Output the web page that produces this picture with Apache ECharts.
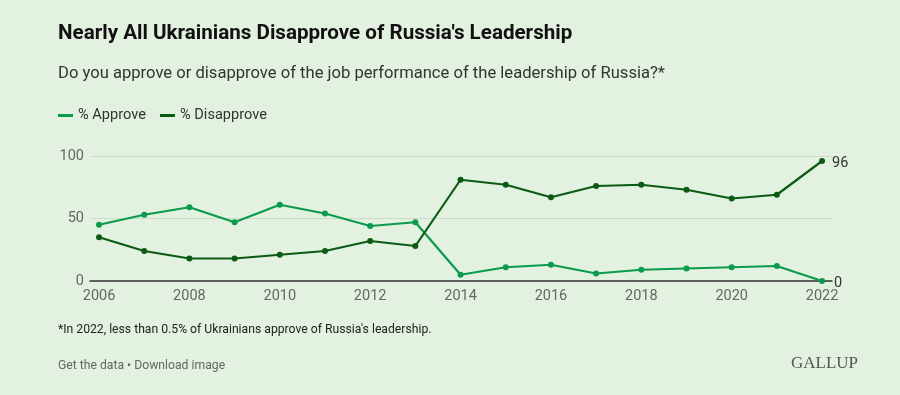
<!DOCTYPE html>
<html><head><meta charset="utf-8">
<script src="https://cdn.jsdelivr.net/npm/echarts@6/dist/echarts.min.js"></script>
<style>html,body{margin:0;padding:0;background:#e3f1e0;}#c{width:900px;height:395px;}</style>
</head><body><div id="c"></div>
<script>
const years = [2006,2007,2008,2009,2010,2011,2012,2013,2014,2015,2016,2017,2018,2019,2020,2021,2022];
const approve = [45,53,59,47,61,54,44,47,5,11,13,6,9,10,11,12,0];
const disapprove = [35,24,18,18,21,24,32,28,81,77,67,76,77,73,66,69,96];
const xTicks = [2006,2008,2010,2012,2014,2016,2018,2020,2022];
const yTicks = [0,50,100];

const chart = echarts.init(document.getElementById('c'), null, {renderer:'canvas'});
const FONT = 'Roboto';
const pair = arr => years.map((y,i)=>[y,arr[i]]);
chart.setOption({
  backgroundColor:'#e3f1e0',
  animation:false,
  textStyle:{fontFamily:FONT},
  title:[
    {text:"Nearly All Ukrainians Disapprove of Russia's Leadership",left:58,top:23,padding:0,
     textStyle:{fontFamily:FONT,fontSize:20.6,fontWeight:'bold',color:'#111'}},
    {text:"Do you approve or disapprove of the job performance of the leadership of Russia?*",left:58,top:65,padding:0,
     textStyle:{fontFamily:FONT,fontSize:16.6,fontWeight:'normal',color:'#333'}},
    {text:"*In 2022, less than 0.5% of Ukrainians approve of Russia's leadership.",left:58,top:324,padding:0,
     textStyle:{fontFamily:FONT,fontSize:12.2,fontWeight:'normal',color:'#222'}},
    {text:"Get the data • Download image",left:58,top:360,padding:0,
     textStyle:{fontFamily:FONT,fontSize:12.2,fontWeight:'normal',color:'#666'}},
    {text:"GALLUP",left:791,top:355,padding:0,
     textStyle:{fontFamily:'Liberation Serif',fontSize:17,fontWeight:'normal',color:'#555'}}
  ],
  legend:{left:58,top:108,padding:0,itemWidth:15,itemHeight:3,itemGap:14,icon:'rect',
    textStyle:{fontFamily:FONT,fontSize:14.6,color:'#333'},
    data:['% Approve','% Disapprove']},
  grid:{left:90,right:68,top:156,bottom:114,containLabel:false},
  xAxis:{type:'value',min:2005.8,max:2022.22,
    axisLine:{show:true,onZero:true,lineStyle:{color:'#333',width:1.5}},
    axisTick:{show:false},
    splitLine:{show:false},
    axisLabel:{customValues:xTicks,color:'#666',fontSize:14.5,fontFamily:FONT,margin:8,formatter:v=>String(v)}},
  yAxis:{type:'value',min:0,max:100,interval:50,
    axisLine:{show:false},axisTick:{show:false},
    splitLine:{lineStyle:{color:'#cbdcc8',width:1}},
    axisLabel:{color:'#666',fontSize:14.5,fontFamily:FONT,margin:6}},
  series:[
    {name:'% Approve',type:'line',data:pair(approve),color:'#0a9b4c',
     lineStyle:{width:2.2},symbol:'circle',symbolSize:6,z:3,
     endLabel:{show:true,formatter:p=>String(p.value[1]),color:'#333',fontSize:14.5,fontFamily:FONT,distance:12,offset:[0,2]}},
    {name:'% Disapprove',type:'line',data:pair(disapprove),color:'#0b5b14',
     lineStyle:{width:2.2},symbol:'circle',symbolSize:6,z:4,
     endLabel:{show:true,formatter:p=>String(p.value[1]),color:'#333',fontSize:14.5,fontFamily:FONT,distance:10,offset:[0,2]}}
  ]
});
</script></body></html>
